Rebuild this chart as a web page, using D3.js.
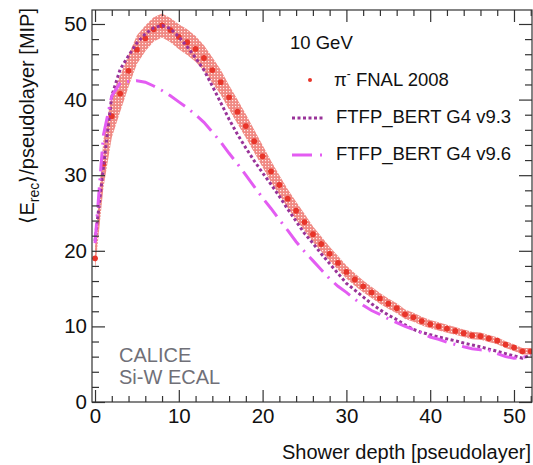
<!DOCTYPE html>
<html>
<head>
<meta charset="utf-8">
<script src="https://cdn.jsdelivr.net/npm/d3@7"></script>
<style>
  body { margin: 0; background: #fff; }
  svg { display: block; }
  text { font-family: "Liberation Sans", Arial, Helvetica, sans-serif; }
</style>
</head>
<body>
<div id="chart"></div>
<script>
// Data
const layers = [0,1,2,3,4,5,6,7,8,9,10,11,12,13,14,15,16,17,18,19,20,21,22,23,24,25,26,
                27,28,29,30,31,32,33,34,35,36,37,38,39,40,41,42,43,44,45,46,47,48,49,50,51,52];

// pi- FNAL 2008 data and its error band (half width)
const fnal = [19.0,31.5,37.8,40.8,43.8,46.6,48.1,49.3,49.8,49.2,
              48.3,47.6,46.7,45.5,43.9,42.3,40.3,38.4,36.5,34.5,
              32.5,30.5,28.7,26.9,25.3,23.8,22.2,20.9,19.6,18.4,
              17.2,16.2,15.3,14.5,13.7,13.0,12.4,11.6,11.2,10.7,
              10.3,10.0,9.7,9.4,9.1,8.8,8.7,8.4,8.1,7.6,
              7.2,6.7,6.7];
const fnalErr = [1.6,3.2,2.8,2.4,2.1,1.9,1.7,1.6,1.6,1.6,
                 1.65,1.7,1.7,1.7,1.7,1.65,1.6,1.6,1.55,1.5,
                 1.45,1.4,1.3,1.25,1.2,1.1,1.05,1.0,0.95,0.9,
                 0.85,0.82,0.78,0.75,0.72,0.68,0.65,0.62,0.6,0.58,
                 0.56,0.54,0.53,0.52,0.5,0.5,0.48,0.47,0.46,0.45,
                 0.44,0.43,0.43];

// FTFP_BERT G4 v9.3
const g4v93 = [21.3,31.0,40.5,44.0,45.8,47.5,48.7,49.5,49.8,49.4,
               48.3,47.0,45.5,43.9,41.8,39.6,37.4,35.4,33.6,31.9,
               30.3,28.8,27.2,25.5,23.9,22.3,21.0,19.6,18.3,17.0,
               15.7,14.8,13.9,13.0,12.2,11.5,10.9,10.2,9.6,9.2,
               8.9,8.6,8.35,8.1,7.8,7.55,7.3,7.0,6.7,6.4,
               6.1,5.8,6.2];

// FTFP_BERT G4 v9.6
const g4v96 = [21.0,35.3,40.5,42.2,42.4,42.5,42.3,41.8,41.2,40.5,
               39.7,38.9,38.0,37.0,35.7,34.4,32.9,31.5,30.0,28.5,
               27.0,25.6,24.1,22.7,21.2,19.9,18.7,17.5,16.3,15.3,
               14.5,13.6,12.8,12.1,11.6,11.0,10.5,10.0,9.6,9.1,
               8.6,8.3,7.9,7.6,7.3,7.05,6.9,6.8,6.4,6.0,
               5.8,5.9,6.1];

const xMajor = [0, 10, 20, 30, 40, 50];
const xMinor = [2,4,6,8,12,14,16,18,22,24,26,28,32,34,36,38,42,44,46,48,52];
const yMajor = [0, 10, 20, 30, 40, 50];
const yMinor = [2,4,6,8,12,14,16,18,22,24,26,28,32,34,36,38,42,44,46,48];

const legendLabels = ["FNAL 2008", "FTFP_BERT G4 v9.3", "FTFP_BERT G4 v9.6"];

// Layout
const W = 533, H = 465;
const frame = { left: 92, right: 532, top: 10, bottom: 402 };

const colRed = "#e8352a", colPurple = "#993399", colPink = "#e35cf2";

const svg = d3.select("#chart").append("svg")
    .attr("width", W)
    .attr("height", H);

const x = d3.scaleLinear().domain([-0.36, 52.15]).range([frame.left, frame.right]);
const y = d3.scaleLinear().domain([0, 51.85]).range([frame.bottom, frame.top]);

// hatched pattern for the error band
const defs = svg.append("defs");
const pat = defs.append("pattern")
    .attr("id", "band")
    .attr("width", 3).attr("height", 3)
    .attr("patternUnits", "userSpaceOnUse");
pat.append("rect").attr("width", 3).attr("height", 3).attr("fill", "#ec6c64");
pat.append("rect").attr("x", 1).attr("y", 1).attr("width", 1.2).attr("height", 1.2).attr("fill", "#fde8e6");

defs.append("clipPath").attr("id", "clip")
    .append("rect")
    .attr("x", frame.left).attr("y", frame.top)
    .attr("width", frame.right - frame.left)
    .attr("height", frame.bottom - frame.top);

const plot = svg.append("g").attr("clip-path", "url(#clip)");

// Error band
const area = d3.area()
    .x(i => x(layers[i]))
    .y0(i => y(fnal[i] - fnalErr[i]))
    .y1(i => y(fnal[i] + fnalErr[i]));

plot.append("path")
    .datum(layers.map((d, i) => i))
    .attr("d", area)
    .attr("fill", "url(#band)")
    .attr("opacity", 0.8);

// Data points
plot.selectAll(".pt")
    .data(layers)
    .enter()
    .append("circle")
    .attr("class", "pt")
    .attr("cx", d => x(d))
    .attr("cy", (d, i) => y(fnal[i]))
    .attr("r", 2.9)
    .attr("fill", colRed);

// Simulation lines
function drawLine(values, color, dash) {
    const l = d3.line().x((d, i) => x(layers[i])).y(d => y(d));
    plot.append("path")
        .datum(values)
        .attr("d", l)
        .attr("fill", "none")
        .attr("stroke", color)
        .attr("stroke-width", 3)
        .attr("stroke-dasharray", dash);
}

drawLine(g4v93, colPurple, "3,2.5");
drawLine(g4v96, colPink, "20,7,2,7");

// Axes (ROOT style: ticks inside, mirrored on top and right)
function styleAxis(g) {
    g.select(".domain").remove();
    g.selectAll(".tick line").attr("stroke", "#333").attr("stroke-width", 1.2);
    g.selectAll("text").attr("font-size", 20.5).attr("fill", "#111");
}

svg.append("g")
    .attr("transform", `translate(0,${frame.bottom})`)
    .call(d3.axisBottom(x).tickValues(xMajor).tickSize(-12).tickPadding(6).tickFormat(d3.format("d")))
    .call(styleAxis);
svg.append("g")
    .attr("transform", `translate(0,${frame.bottom})`)
    .call(d3.axisBottom(x).tickValues(xMinor).tickSize(-6).tickFormat(""))
    .call(styleAxis);
svg.append("g")
    .attr("transform", `translate(0,${frame.top})`)
    .call(d3.axisTop(x).tickValues(xMajor).tickSize(-12).tickFormat(""))
    .call(styleAxis);
svg.append("g")
    .attr("transform", `translate(0,${frame.top})`)
    .call(d3.axisTop(x).tickValues(xMinor).tickSize(-6).tickFormat(""))
    .call(styleAxis);

svg.append("g")
    .attr("transform", `translate(${frame.left},0)`)
    .call(d3.axisLeft(y).tickValues(yMajor).tickSize(-13).tickPadding(5).tickFormat(d3.format("d")))
    .call(styleAxis);
svg.append("g")
    .attr("transform", `translate(${frame.left},0)`)
    .call(d3.axisLeft(y).tickValues(yMinor).tickSize(-7).tickFormat(""))
    .call(styleAxis);
svg.append("g")
    .attr("transform", `translate(${frame.right},0)`)
    .call(d3.axisRight(y).tickValues(yMajor).tickSize(-13).tickFormat(""))
    .call(styleAxis);
svg.append("g")
    .attr("transform", `translate(${frame.right},0)`)
    .call(d3.axisRight(y).tickValues(yMinor).tickSize(-7).tickFormat(""))
    .call(styleAxis);

// Frame
svg.append("rect")
    .attr("x", frame.left).attr("y", frame.top)
    .attr("width", frame.right - frame.left)
    .attr("height", frame.bottom - frame.top)
    .attr("fill", "none")
    .attr("stroke", "#333")
    .attr("stroke-width", 1.2);

// Axis titles
svg.append("text")
    .attr("x", 531).attr("y", 459)
    .attr("text-anchor", "end")
    .attr("font-size", 20)
    .attr("fill", "#111")
    .text("Shower depth [pseudolayer]");

const yt = svg.append("text")
    .attr("transform", "translate(34,8) rotate(-90)")
    .attr("text-anchor", "end")
    .attr("font-size", 20)
    .attr("fill", "#111");
yt.append("tspan").text("\u27E8E");
yt.append("tspan").attr("font-size", 14).attr("dy", 5).text("rec");
yt.append("tspan").attr("dy", -5).text("\u27E9/pseudolayer [MIP]");

// Legend
svg.append("text")
    .attr("x", 290).attr("y", 49)
    .attr("font-size", 18.5).attr("fill", "#111")
    .text("10 GeV");

svg.append("circle")
    .attr("cx", 310).attr("cy", 80).attr("r", 2)
    .attr("fill", colRed);
const lt = svg.append("text")
    .attr("x", 334).attr("y", 86)
    .attr("font-size", 18.5).attr("fill", "#111");
lt.append("tspan").text("\u03C0");
lt.append("tspan").attr("font-size", 12).attr("dy", -8).text("-");
lt.append("tspan").attr("dy", 8).text(" " + legendLabels[0]);

svg.append("line")
    .attr("x1", 292).attr("x2", 325).attr("y1", 118).attr("y2", 118)
    .attr("stroke", colPurple).attr("stroke-width", 3)
    .attr("stroke-dasharray", "3,2.5");
svg.append("text")
    .attr("x", 336).attr("y", 123)
    .attr("font-size", 18.5).attr("fill", "#111")
    .text(legendLabels[1]);

svg.append("line")
    .attr("x1", 292).attr("x2", 322).attr("y1", 155).attr("y2", 155)
    .attr("stroke", colPink).attr("stroke-width", 3)
    .attr("stroke-dasharray", "20,8,2,7");
svg.append("text")
    .attr("x", 336).attr("y", 160)
    .attr("font-size", 18.5).attr("fill", "#111")
    .text(legendLabels[2]);

// CALICE label
svg.append("text")
    .attr("x", 119).attr("y", 361.5)
    .attr("font-size", 20).attr("fill", "#707078")
    .text("CALICE");
svg.append("text")
    .attr("x", 119).attr("y", 383.5)
    .attr("font-size", 20).attr("fill", "#707078")
    .text("Si-W ECAL");
</script>
</body>
</html>
